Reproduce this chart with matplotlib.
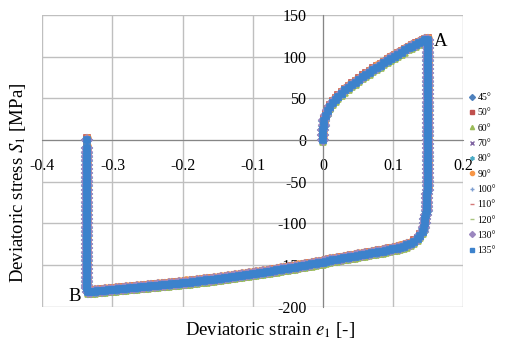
import matplotlib
matplotlib.use("Agg")
import matplotlib.pyplot as plt
from matplotlib.lines import Line2D

plt.rcParams['font.family'] = ['Liberation Serif', 'DejaVu Serif']
plt.rcParams['mathtext.fontset'] = 'stix'
plt.rcParams['axes.unicode_minus'] = False

# loop, in pieces: strain e1 [-], stress S1 [MPa]
# loading branch O -> A
up_strain = [0.0, 0.0, 0.0005, 0.001, 0.002, 0.004, 0.007, 0.01, 0.014, 0.018, 0.022,
             0.027, 0.032, 0.037, 0.042, 0.047, 0.052, 0.057, 0.062, 0.067, 0.072,
             0.077, 0.082, 0.087, 0.092, 0.097, 0.102, 0.107, 0.112, 0.117, 0.122,
             0.127, 0.132, 0.137, 0.142, 0.146, 0.149]
up_stress = [0, 6, 12, 17, 23, 29, 35, 40, 45, 48.5, 51.5,
             55.5, 59.5, 63, 66, 69, 72, 75.5, 78, 81, 84,
             86.5, 89, 92, 95, 97.5, 100, 102.5, 105, 107.5, 110,
             112, 114, 116, 118, 119.5, 120]
# unloading, almost vertical below A
drop_strain = [0.149] * 36 + [0.148] * 5
drop_stress = [115, 110, 105, 100, 95, 90, 85, 80, 75, 70, 65, 60, 55, 50, 45, 40, 35,
               30, 25, 20, 15, 10, 5, 0, -5, -10, -15, -20, -25, -30, -35, -40, -45,
               -50, -55, -60, -65, -70, -75, -80, -85]
# knee
knee_strain = [0.147, 0.146, 0.145, 0.144, 0.142, 0.139, 0.135, 0.13, 0.125, 0.12,
               0.115, 0.11]
knee_stress = [-90, -95, -100, -105, -110, -115, -119, -122.5, -125, -126.5, -128,
               -129.5]
# reverse branch towards B
low_strain = [0.105, 0.1, 0.095, 0.09, 0.085, 0.08, 0.075, 0.07, 0.065, 0.06, 0.055,
              0.05, 0.045, 0.04, 0.035, 0.03, 0.025, 0.02, 0.015, 0.01, 0.005, 0.0,
              -0.005, -0.01, -0.015, -0.02, -0.025, -0.03, -0.035, -0.04, -0.045, -0.05,
              -0.055, -0.06, -0.065, -0.07, -0.075, -0.08, -0.085, -0.09, -0.095, -0.1,
              -0.105, -0.11, -0.115, -0.12, -0.125, -0.13, -0.135, -0.14, -0.145, -0.15,
              -0.155, -0.16, -0.165, -0.17, -0.175, -0.18, -0.185, -0.19, -0.195, -0.2,
              -0.205, -0.21, -0.215, -0.22, -0.225, -0.23, -0.235, -0.24, -0.245, -0.25,
              -0.255, -0.26, -0.265, -0.27, -0.275, -0.28, -0.285, -0.29, -0.295, -0.3,
              -0.305, -0.31, -0.315, -0.32, -0.325, -0.33, -0.335]
low_stress = [-130.3, -131, -132, -133, -133.8, -134.5, -135.3, -136, -136.8, -137.5,
              -138.3, -139, -139.8, -140.5, -141.3, -142, -142.8, -143.5, -144.3, -145,
              -146, -147, -147.8, -148.5, -149.3, -150, -150.8, -151.5, -152.3, -153,
              -153.7, -154.4, -155.1, -155.8, -156.5, -157.2, -157.9, -158.6, -159.3,
              -160, -160.6, -161.2, -161.8, -162.4, -163, -163.6, -164.2, -164.8,
              -165.4, -166, -166.5, -167, -167.5, -168, -168.5, -169, -169.5, -170,
              -170.5, -171, -171.5, -172, -172.4, -172.8, -173.2, -173.6, -174, -174.4,
              -174.8, -175.2, -175.6, -176, -176.4, -176.8, -177.2, -177.6, -178,
              -178.4, -178.8, -179.2, -179.6, -180, -180.4, -180.8, -181.2, -181.6,
              -182, -182.4, -182.8]
# unloading from B back to zero stress
rise_strain = [-0.336] * 36
rise_stress = [-178, -175, -170, -165, -160, -155, -150, -145, -140, -135, -130, -125,
               -120, -115, -110, -105, -100, -95, -90, -85, -80, -75, -70, -65, -60,
               -55, -50, -45, -40, -35, -30, -25, -20, -15, -10, 0]

strain = up_strain + drop_strain + knee_strain + low_strain + rise_strain
stress = up_stress + drop_stress + knee_stress + low_stress + rise_stress

# one small stress shift per loading angle [MPa]
angles = ['45°', '50°', '60°', '70°', '80°', '90°', '100°', '110°', '120°', '130°', '135°']
shift = [0.0, 2.0, -2.5, 0.5, -1.0, 3.0, 1.0, -1.5, -3.0, 0.5, 0.0]

colors = ['#4F81BD', '#C0504D', '#9BBB59', '#8064A2', '#4BACC6', '#F79646',
          '#7E9FD1', '#D47A79', '#A9C47F', '#9B87BF', '#3C82CC']
markers = ['D', 's', '^', 'x', (6, 2, 0), 'o', '+', '_', '_', 'D', 's']

fig = plt.figure(figsize=(5.06, 3.43), dpi=100)
ax = fig.add_axes([42.3 / 506, 1 - 306.7 / 343, 421 / 506, 291.7 / 343])

for i in range(len(angles)):
    y = [s + shift[i] for s in stress]
    ax.plot(strain, y, color=colors[i], lw=2, marker=markers[i], ms=5,
            mew=1.2, zorder=3 + i, solid_joinstyle='round')

ax.set_xlim(-0.4, 0.2)
ax.set_ylim(-200, 150)
ax.set_xticks([-0.4, -0.3, -0.2, -0.1, 0, 0.1, 0.2])
ax.set_xticklabels(['-0.4', '-0.3', '-0.2', '-0.1', '0', '0.1', '0.2'])
ax.set_yticks([-200, -150, -100, -50, 0, 50, 100, 150])
ax.grid(True, color='#BFBFBF', lw=1)
ax.set_axisbelow(True)
for side in ['top', 'right']:
    ax.spines[side].set_visible(False)
ax.spines['left'].set_position(('data', 0))
ax.spines['bottom'].set_position(('data', 0))
ax.spines['left'].set_color('#868686')
ax.spines['bottom'].set_color('#868686')
ax.tick_params(length=0, labelsize=11.5)
ax.tick_params(axis='y', pad=12)
ax.tick_params(axis='x', pad=13)

ax.text(0.158, 118, 'A', fontsize=13.5, ha='left', va='center')
ax.text(-0.354, -188, 'B', fontsize=13.5, ha='center', va='center')

fig.text(18 / 506, 1 - 183 / 343, 'Deviatoric stress $S_1$ [MPa]', rotation=90,
         ha='center', va='center', fontsize=13.5)
fig.text(270 / 506, 1 - 330 / 343, 'Deviatoric strain $e_1$ [-]',
         ha='center', va='center', fontsize=13.5)

handles = [Line2D([], [], ls='none', marker=markers[i], color=colors[i], ms=3, mew=1)
           for i in range(len(angles))]
fig.legend(handles, angles, loc='upper left', bbox_to_anchor=(469 / 506, 1 - 93 / 343),
           frameon=False, fontsize=7, handlelength=0.6, handletextpad=0.25,
           labelspacing=0.65, borderpad=0, borderaxespad=0)

fig.savefig('out.png', dpi=100)
